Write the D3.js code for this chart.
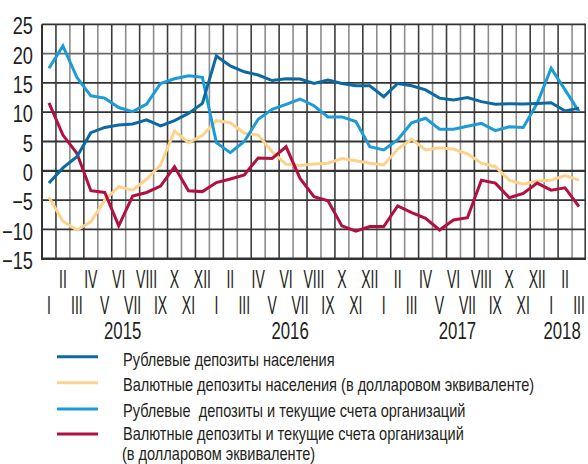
<!DOCTYPE html>
<html>
<head>
<meta charset="utf-8">
<script src="https://cdn.jsdelivr.net/npm/d3@7/dist/d3.min.js"></script>
<style>
  html, body { margin: 0; padding: 0; background: #ffffff; }
  svg { display: block; }
  text { font-family: "Liberation Sans", Arial, sans-serif; fill: #231f20; }
</style>
</head>
<body>
<svg id="chart" width="588" height="464"></svg>
<script>
// ---- Data ----
const romans = ["I","II","III","IV","V","VI","VII","VIII","IX","X","XI","XII"];
const years = ["2015", "2016", "2017", "2018"];
const monthsPerYear = [12, 12, 12, 3];
const yTicks = [25, 20, 15, 10, 5, 0, -5, -10, -15];

const rubHousehold = [-2.1, 0.5, 2.4, 6.5, 7.4, 7.8, 8.0, 8.7, 7.65, 8.55, 9.8, 11.5,
  19.6, 17.9, 16.9, 16.35, 15.4, 15.7, 15.65, 14.9, 15.5, 14.9, 14.5, 14.5,
  12.65, 14.9, 14.5, 13.8, 12.4, 12.1, 12.5, 11.8, 11.35, 11.45, 11.4, 11.5,
  11.6, 10.2, 10.7];
const fxHousehold = [-4.5, -8.6, -10.1, -8.7, -5.0, -2.7, -3.3, -1.45, 1.0, 6.8, 4.8, 6.0,
  8.55, 8.2, 6.4, 6.1, 3.25, 1.1, 0.9, 1.15, 1.3, 2.1, 1.7, 1.3,
  1.0, 3.7, 5.4, 3.55, 3.95, 3.7, 2.9, 1.3, 0.7, -1.6, -2.3, -1.75,
  -1.6, -0.8, -1.6];
const rubOrg = [17.5, 21.3, 15.95, 12.8, 12.4, 10.8, 10.1, 11.4, 14.9, 15.7, 16.2, 15.95,
  4.8, 3.1, 5.0, 8.8, 10.5, 11.35, 12.25, 11.1, 9.2, 9.2, 8.4, 4.1,
  3.55, 5.3, 8.2, 8.96, 7.1, 7.1, 7.6, 8.1, 6.85, 7.5, 7.4, 11.5,
  17.5, 13.8, 10.1];
const fxOrg = [11.6, 6.1, 3.0, -3.4, -3.7, -9.4, -4.3, -3.7, -2.6, 0.7, -3.4, -3.55,
  -2.0, -1.4, -0.7, 2.2, 2.1, 4.1, -1.3, -4.4, -5.1, -9.4, -10.3, -9.5,
  -9.5, -6.0, -7.15, -8.1, -10.1, -8.4, -8.0, -1.6, -2.1, -4.6, -3.85, -2.1,
  -3.3, -2.9, -6.1];

const seriesNames = [
  ["Рублевые депозиты населения"],
  ["Валютные депозиты населения (в долларовом эквиваленте)"],
  ["Рублевые  депозиты и текущие счета организаций"],
  ["Валютные депозиты и текущие счета организаций", "(в долларовом эквиваленте)"]
];
const seriesColors = ["#0b6aa2", "#fdd38b", "#1b9bd7", "#b21040"];
const seriesValues = [rubHousehold, fxHousehold, rubOrg, fxOrg];

// ---- Build month list ----
const months = [];
years.forEach((y, yi) => {
  for (let m = 0; m < monthsPerYear[yi]; m++) months.push({ key: y + "-" + (m + 1), year: y, m: m });
});

// ---- Layout ----
const svg = d3.select("#chart");
const plot = { left: 42, right: 586, top: 24.3, bottom: 258.7 };

const x = d3.scaleBand().domain(months.map(d => d.key)).range([plot.left, plot.right]).padding(0);
const y = d3.scaleLinear().domain([-15, 25]).range([plot.bottom, plot.top]);
const cx = k => x(k) + x.bandwidth() / 2;

// vertical grid lines
const g = svg.append("g");
g.selectAll("line.v").data(months.slice(1)).enter().append("line")
  .attr("x1", d => x(d.key)).attr("x2", d => x(d.key))
  .attr("y1", plot.top).attr("y2", plot.bottom)
  .attr("stroke", (d, i) => i % 2 === 0 ? "#3c3c3c" : "#8c8c8c")
  .attr("stroke-width", 1.6);
// right border
g.append("line").attr("x1", plot.right - 0.8).attr("x2", plot.right - 0.8)
  .attr("y1", plot.top).attr("y2", plot.bottom).attr("stroke", "#3c3c3c").attr("stroke-width", 1.6);

// horizontal grid lines
g.selectAll("line.h").data(yTicks).enter().append("line")
  .attr("x1", plot.left).attr("x2", plot.right)
  .attr("y1", d => y(d)).attr("y2", d => y(d))
  .attr("stroke", d => d === 20 ? "#6a6a6a" : "#333333")
  .attr("stroke-width", d => d === -15 ? 2.6 : (d === 0 ? 2.2 : 1.8));
// left axis
g.append("line").attr("x1", plot.left).attr("x2", plot.left)
  .attr("y1", plot.top).attr("y2", plot.bottom + 1.3).attr("stroke", "#333").attr("stroke-width", 2);

// y labels
const yAxis = d3.axisLeft(y).tickValues(yTicks).tickSize(0).tickPadding(0).tickFormat(d3.format("d"));
const ya = svg.append("g").attr("transform", "translate(33,0)").call(yAxis);
ya.select(".domain").remove();
ya.selectAll("text")
  .attr("font-family", "Liberation Sans, Arial, sans-serif")
  .attr("font-size", 24).attr("fill", "#231f20")
  .attr("dy", "0.36em")
  .attr("text-anchor", "end")
  .attr("x", 0)
  .attr("transform", "translate(0,1) scale(0.76,1)");

// roman month labels
const mLab = svg.append("g");
months.forEach((d, i) => {
  const row = d.m % 2 === 1 ? 0 : 1;
  const bx = cx(d.key);
  const by = row === 0 ? 288 : 314;
  mLab.append("text")
    .attr("transform", `translate(${bx},${by}) scale(0.56,1)`)
    .attr("text-anchor", "middle")
    .attr("font-size", 25)
    .text(romans[d.m]);
});

// year labels
years.forEach((yr, yi) => {
  const ms = months.filter(d => d.year === yr);
  const mid = (cx(ms[0].key) + cx(ms[ms.length - 1].key)) / 2 - 3;
  svg.append("text")
    .attr("transform", `translate(${mid},338.5) scale(0.7,1)`)
    .attr("text-anchor", "middle")
    .attr("font-size", 24)
    .text(yr);
});

// series lines
const line = d3.line().x((d, i) => cx(months[i].key)).y(d => y(d)).curve(d3.curveLinear);
const order = [1, 3, 2, 0];
order.forEach(si => {
  svg.append("path")
    .datum(seriesValues[si])
    .attr("d", line)
    .attr("fill", "none")
    .attr("stroke", seriesColors[si])
    .attr("stroke-width", 3)
    .attr("stroke-linejoin", "miter")
    .attr("stroke-linecap", "butt");
});

// legend
const legY = [356.7, 382.7, 409, 434];
const legBase = [[366], [391], [417], [439.6], [459.8]];
const leg = svg.append("g");
seriesNames.forEach((lines, i) => {
  leg.append("line").attr("x1", 57).attr("x2", 98)
    .attr("y1", legY[i]).attr("y2", legY[i])
    .attr("stroke", seriesColors[i]).attr("stroke-width", 3);
  lines.forEach((t, j) => {
    const base = j === 0 ? legBase[i][0] : legBase[4][0];
    leg.append("text")
      .attr("transform", `translate(${j === 0 ? 123 : 122},${base}) scale(0.766,1)`)
      .attr("font-size", 19)
      .attr("xml:space", "preserve")
      .text(t);
  });
});
</script>
</body>
</html>
